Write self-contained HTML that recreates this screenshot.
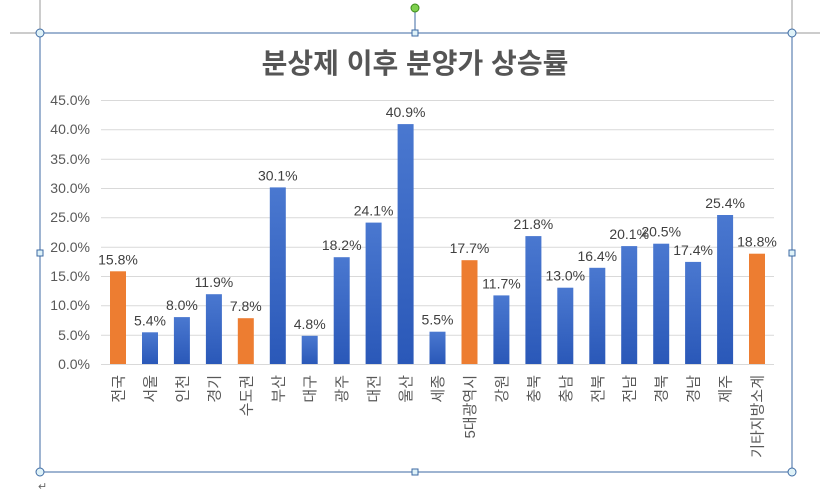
<!DOCTYPE html>
<html><head><meta charset="utf-8"><style>
html,body{margin:0;padding:0;background:#fff;}
svg{display:block;font-family:"Liberation Sans","Noto Sans CJK KR","NanumGothic",sans-serif;}
</style></head><body>
<svg width="820" height="493" viewBox="0 0 820 493" xmlns="http://www.w3.org/2000/svg">
<defs>
<linearGradient id="bl" x1="0" y1="0" x2="0" y2="1"><stop offset="0" stop-color="#4a78d0"/><stop offset="1" stop-color="#2a58b8"/></linearGradient>
</defs>
<line x1="10" y1="33" x2="40" y2="33" stroke="#999"/>
<line x1="792" y1="33" x2="820" y2="33" stroke="#999"/>
<line x1="40" y1="0" x2="40" y2="33" stroke="#999"/>
<line x1="792" y1="0" x2="792" y2="33" stroke="#999"/>
<rect x="40" y="33" width="752" height="439" fill="none" stroke="#3e6aa3" stroke-width="1"/>
<line x1="415" y1="10" x2="415" y2="33" stroke="#3e6aa3"/>
<circle cx="415" cy="8" r="4" fill="#7ed04e" stroke="#3c8a1a"/>
<g fill="#dff2f8" stroke="#3e6aa3">
<circle cx="40" cy="33" r="4"/><circle cx="792" cy="33" r="4"/><circle cx="40" cy="472" r="4"/><circle cx="792" cy="472" r="4"/>
<rect x="412" y="30" width="6" height="6"/><rect x="412" y="469" width="6" height="6"/><rect x="37" y="250" width="6" height="6"/><rect x="789" y="250" width="6" height="6"/>
</g>
<text x="415" y="73" text-anchor="middle" font-size="28" font-weight="bold" fill="#555">분상제 이후 분양가 상승률</text>
<g stroke="#d9d9d9" stroke-width="1">
<line x1="101" y1="100.5" x2="774" y2="100.5"/><line x1="101" y1="129.8" x2="774" y2="129.8"/><line x1="101" y1="159.2" x2="774" y2="159.2"/><line x1="101" y1="188.5" x2="774" y2="188.5"/><line x1="101" y1="217.8" x2="774" y2="217.8"/><line x1="101" y1="247.2" x2="774" y2="247.2"/><line x1="101" y1="276.5" x2="774" y2="276.5"/><line x1="101" y1="305.8" x2="774" y2="305.8"/><line x1="101" y1="335.2" x2="774" y2="335.2"/><line x1="101" y1="364.5" x2="774" y2="364.5"/>
</g>
<g font-size="14" fill="#595959" text-anchor="end">
<text x="90" y="105">45.0%</text><text x="90" y="134">40.0%</text><text x="90" y="164">35.0%</text><text x="90" y="193">30.0%</text><text x="90" y="222">25.0%</text><text x="90" y="252">20.0%</text><text x="90" y="281">15.0%</text><text x="90" y="310">10.0%</text><text x="90" y="340">5.0%</text><text x="90" y="369">0.0%</text>
</g>
<g>
<rect x="110" y="271.3" width="16" height="92.7" fill="#ed7d31"/>
<rect x="142" y="332.3" width="16" height="31.7" fill="url(#bl)"/>
<rect x="173.9" y="317.1" width="16" height="46.9" fill="url(#bl)"/>
<rect x="205.9" y="294.2" width="16" height="69.8" fill="url(#bl)"/>
<rect x="237.8" y="318.2" width="16" height="45.8" fill="#ed7d31"/>
<rect x="269.8" y="187.4" width="16" height="176.6" fill="url(#bl)"/>
<rect x="301.7" y="335.8" width="16" height="28.2" fill="url(#bl)"/>
<rect x="333.7" y="257.2" width="16" height="106.8" fill="url(#bl)"/>
<rect x="365.6" y="222.6" width="16" height="141.4" fill="url(#bl)"/>
<rect x="397.6" y="124.1" width="16" height="239.9" fill="url(#bl)"/>
<rect x="429.5" y="331.7" width="16" height="32.3" fill="url(#bl)"/>
<rect x="461.5" y="260.2" width="16" height="103.8" fill="#ed7d31"/>
<rect x="493.4" y="295.4" width="16" height="68.6" fill="url(#bl)"/>
<rect x="525.4" y="236.1" width="16" height="127.9" fill="url(#bl)"/>
<rect x="557.3" y="287.7" width="16" height="76.3" fill="url(#bl)"/>
<rect x="589.3" y="267.8" width="16" height="96.2" fill="url(#bl)"/>
<rect x="621.2" y="246.1" width="16" height="117.9" fill="url(#bl)"/>
<rect x="653.2" y="243.7" width="16" height="120.3" fill="url(#bl)"/>
<rect x="685.1" y="261.9" width="16" height="102.1" fill="url(#bl)"/>
<rect x="717.1" y="215" width="16" height="149" fill="url(#bl)"/>
<rect x="749" y="253.7" width="16" height="110.3" fill="#ed7d31"/>
</g>
<g font-size="14" fill="#404040" text-anchor="middle">
<text x="118" y="264.3">15.8%</text>
<text x="150" y="325.3">5.4%</text>
<text x="181.9" y="310.1">8.0%</text>
<text x="213.9" y="287.2">11.9%</text>
<text x="245.8" y="311.2">7.8%</text>
<text x="277.8" y="180.4">30.1%</text>
<text x="309.7" y="328.8">4.8%</text>
<text x="341.7" y="250.2">18.2%</text>
<text x="373.6" y="215.6">24.1%</text>
<text x="405.6" y="117.1">40.9%</text>
<text x="437.5" y="324.7">5.5%</text>
<text x="469.5" y="253.2">17.7%</text>
<text x="501.4" y="288.4">11.7%</text>
<text x="533.4" y="229.1">21.8%</text>
<text x="565.3" y="280.7">13.0%</text>
<text x="597.3" y="260.8">16.4%</text>
<text x="629.2" y="239.1">20.1%</text>
<text x="661.2" y="236.7">20.5%</text>
<text x="693.1" y="254.9">17.4%</text>
<text x="725.1" y="208">25.4%</text>
<text x="757" y="246.7">18.8%</text>
</g>
<g font-size="15" fill="#595959" text-anchor="end">
<text transform="translate(123.5,375) rotate(-90)">전국</text>
<text transform="translate(155.5,375) rotate(-90)">서울</text>
<text transform="translate(187.4,375) rotate(-90)">인천</text>
<text transform="translate(219.4,375) rotate(-90)">경기</text>
<text transform="translate(251.3,375) rotate(-90)">수도권</text>
<text transform="translate(283.3,375) rotate(-90)">부산</text>
<text transform="translate(315.2,375) rotate(-90)">대구</text>
<text transform="translate(347.2,375) rotate(-90)">광주</text>
<text transform="translate(379.1,375) rotate(-90)">대전</text>
<text transform="translate(411.1,375) rotate(-90)">울산</text>
<text transform="translate(443,375) rotate(-90)">세종</text>
<text transform="translate(475,375) rotate(-90)">5대광역시</text>
<text transform="translate(506.9,375) rotate(-90)">강원</text>
<text transform="translate(538.9,375) rotate(-90)">충북</text>
<text transform="translate(570.8,375) rotate(-90)">충남</text>
<text transform="translate(602.8,375) rotate(-90)">전북</text>
<text transform="translate(634.7,375) rotate(-90)">전남</text>
<text transform="translate(666.7,375) rotate(-90)">경북</text>
<text transform="translate(698.6,375) rotate(-90)">경남</text>
<text transform="translate(730.6,375) rotate(-90)">제주</text>
<text transform="translate(762.5,375) rotate(-90)">기타지방소계</text>
</g>
<text x="38" y="490" font-size="11" fill="#666">↵</text>
</svg>
</body></html>
